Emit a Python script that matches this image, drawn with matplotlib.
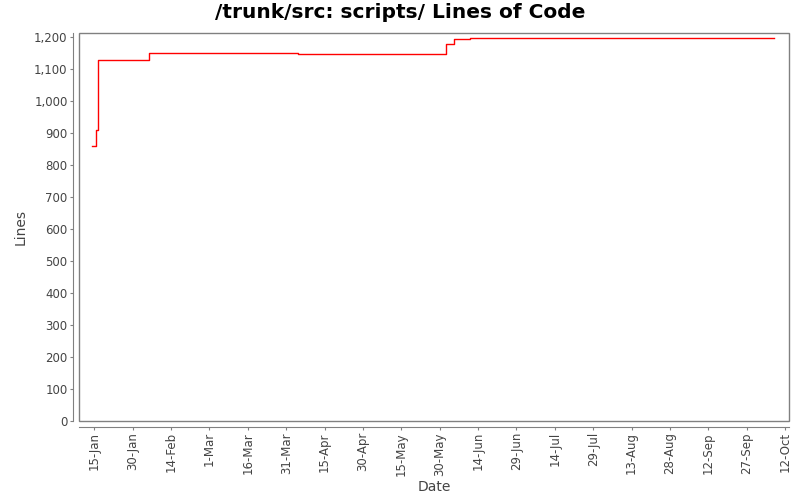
import matplotlib
matplotlib.use("Agg")
import matplotlib.pyplot as plt
from matplotlib.patches import Rectangle
from matplotlib.ticker import FuncFormatter, MultipleLocator, FixedFormatter
import pandas as pd

title = "/trunk/src: scripts/ Lines of Code"
dates = ["2007-01-14 00:00", "2007-01-15 20:00", "2007-01-16 14:00", "2007-02-05 12:00",
         "2007-04-04 16:00", "2007-06-01 12:00", "2007-06-04 14:00", "2007-06-10 22:00",
         "2007-10-07 20:00"]
lines = [860, 910, 1129, 1148, 1145, 1179, 1192, 1195, 1195]
tick_labels = ["15-Jan", "30-Jan", "14-Feb", "1-Mar", "16-Mar", "31-Mar", "15-Apr", "30-Apr",
               "15-May", "30-May", "14-Jun", "29-Jun", "14-Jul", "29-Jul", "13-Aug", "28-Aug",
               "12-Sep", "27-Sep", "12-Oct"]

x = pd.to_datetime(dates)
ticks = pd.date_range("2007-01-15", periods=len(tick_labels), freq="15D")

fig = plt.figure(figsize=(8, 5), dpi=100)
ax = fig.add_axes([78.7/800, 1-421/500, (789-78.7)/800, (421-33.3)/500])

ax.plot(x, lines, color="#ff0000", lw=1.0, drawstyle="steps-post")

ax.set_ylim(0, 1211)
ax.set_xlim(pd.Timestamp("2007-01-08 22:00"), pd.Timestamp("2007-10-13 12:00"))
ax.yaxis.set_major_locator(MultipleLocator(100))
ax.yaxis.set_major_formatter(FuncFormatter(lambda v, p: f"{int(v):,}"))
ax.set_xticks(ticks)
ax.xaxis.set_major_formatter(FixedFormatter(tick_labels))

gray = "#808080"
for s in ["top", "right"]:
    ax.spines[s].set_visible(False)
ax.spines["left"].set_position(("outward", 4))
ax.spines["bottom"].set_position(("outward", 4))
ax.spines["left"].set_color(gray)
ax.spines["bottom"].set_color(gray)
ax.add_patch(Rectangle((0, 0), 1, 1, transform=ax.transAxes, fill=False,
                       edgecolor=gray, lw=1.0, clip_on=False, zorder=5))
ax.tick_params(axis="both", colors=gray, length=2, width=0.8, labelsize=8.5,
               labelcolor="#444444", pad=2)
ax.tick_params(axis="x", labelrotation=90)

ax.set_xlabel("Date", fontsize=10, color="#444444", labelpad=3)
ax.set_ylabel("Lines", fontsize=10, color="#444444", labelpad=5)
fig.text(0.5, 1-13/500, title, ha="center", va="center", fontsize=14.5, fontweight="bold")

fig.savefig("out.png", dpi=100)
